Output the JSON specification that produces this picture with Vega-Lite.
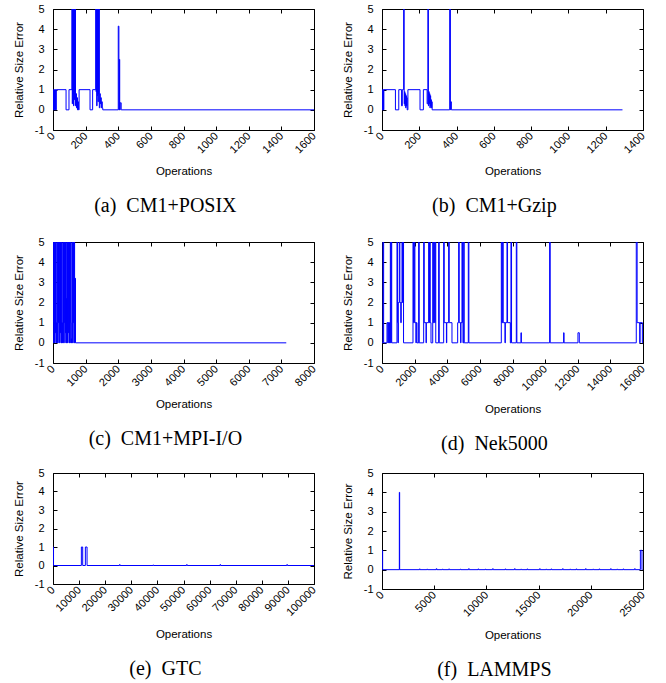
{
  "$schema": "https://vega.github.io/schema/vega-lite/v6.json",
  "padding": {"left": 12, "top": 2, "right": 5, "bottom": 2},
  "background": "white",
  "datasets": {
    "a": [
      {"op": 0, "err": 0}, {"op": 3, "err": 1}, {"op": 6, "err": 0}, {"op": 9, "err": 1}, {"op": 12, "err": 0}, {"op": 15, "err": 1}, {"op": 18, "err": 0}, {"op": 20, "err": 1},
      {"op": 80, "err": 0}, {"op": 98, "err": 1}, {"op": 116, "err": 6}, {"op": 118, "err": 0.3}, {"op": 120, "err": 6}, {"op": 122, "err": 0.8}, {"op": 124, "err": 6}, {"op": 126, "err": 0.2}, {"op": 128, "err": 6}, {"op": 130, "err": 0.5}, {"op": 132, "err": 6}, {"op": 134, "err": 0.9}, {"op": 136, "err": 6}, {"op": 138, "err": 0.2},
      {"op": 141, "err": 0.8}, {"op": 144, "err": 0.1}, {"op": 147, "err": 0.6}, {"op": 150, "err": 0}, {"op": 153, "err": 0.4}, {"op": 156, "err": 0}, {"op": 160, "err": 1},
      {"op": 227, "err": 0}, {"op": 243, "err": 1}, {"op": 262, "err": 6}, {"op": 264, "err": 0.9}, {"op": 266, "err": 6}, {"op": 268, "err": 0.2}, {"op": 270, "err": 6}, {"op": 272, "err": 0.7}, {"op": 274, "err": 6}, {"op": 276, "err": 0.4}, {"op": 278, "err": 6}, {"op": 280, "err": 0.8}, {"op": 282, "err": 6}, {"op": 284, "err": 0.1},
      {"op": 287, "err": 0.8}, {"op": 290, "err": 0.3}, {"op": 293, "err": 0.6}, {"op": 296, "err": 0.1}, {"op": 299, "err": 0.4}, {"op": 302, "err": 0.1}, {"op": 305, "err": 0},
      {"op": 400, "err": 4.15}, {"op": 404, "err": 0}, {"op": 407, "err": 2.5}, {"op": 409, "err": 0}, {"op": 412, "err": 0.35}, {"op": 418, "err": 0}, {"op": 1600, "err": 0}
    ],
    "b": [
      {"op": 0, "err": 0}, {"op": 2, "err": 1}, {"op": 4, "err": 0}, {"op": 6, "err": 1}, {"op": 8, "err": 0}, {"op": 10, "err": 1},
      {"op": 72, "err": 0}, {"op": 90, "err": 1}, {"op": 105, "err": 0.2}, {"op": 109, "err": 1}, {"op": 116, "err": 6}, {"op": 119, "err": 0.3}, {"op": 121, "err": 0.9}, {"op": 123, "err": 0.2}, {"op": 125, "err": 0.8}, {"op": 127, "err": 0.1}, {"op": 129, "err": 0.7}, {"op": 131, "err": 0.2}, {"op": 133, "err": 0.6}, {"op": 135, "err": 0},
      {"op": 139, "err": 1}, {"op": 204, "err": 0}, {"op": 222, "err": 1}, {"op": 242, "err": 0.3}, {"op": 246, "err": 6}, {"op": 249, "err": 0.2}, {"op": 251, "err": 0.9}, {"op": 253, "err": 0.3}, {"op": 255, "err": 0.8}, {"op": 257, "err": 0.1}, {"op": 259, "err": 0.7}, {"op": 261, "err": 0.2}, {"op": 263, "err": 0.5}, {"op": 265, "err": 0.1}, {"op": 267, "err": 0.4}, {"op": 269, "err": 0},
      {"op": 363, "err": 6}, {"op": 367, "err": 0}, {"op": 369, "err": 0.4}, {"op": 372, "err": 0}, {"op": 1290, "err": 0}
    ],
    "c": [
      {"op": 0, "err": 0}, {"op": 8, "err": 1}, {"op": 16, "err": 6}, {"op": 28, "err": 0}, {"op": 40, "err": 6}, {"op": 52, "err": 0}, {"op": 64, "err": 6}, {"op": 76, "err": 0.5}, {"op": 88, "err": 6}, {"op": 100, "err": 0},
      {"op": 112, "err": 1}, {"op": 122, "err": 0}, {"op": 130, "err": 1}, {"op": 135, "err": 6}, {"op": 147, "err": 0}, {"op": 159, "err": 6}, {"op": 171, "err": 1}, {"op": 183, "err": 6}, {"op": 195, "err": 0}, {"op": 207, "err": 6}, {"op": 219, "err": 0.5}, {"op": 231, "err": 6}, {"op": 243, "err": 0}, {"op": 255, "err": 6}, {"op": 267, "err": 0},
      {"op": 275, "err": 1}, {"op": 285, "err": 0}, {"op": 295, "err": 1}, {"op": 300, "err": 6}, {"op": 312, "err": 0}, {"op": 324, "err": 6}, {"op": 336, "err": 1}, {"op": 348, "err": 6}, {"op": 360, "err": 0}, {"op": 372, "err": 6}, {"op": 384, "err": 0.5}, {"op": 396, "err": 6}, {"op": 405, "err": 0},
      {"op": 412, "err": 2.2}, {"op": 420, "err": 0}, {"op": 428, "err": 1}, {"op": 433, "err": 6}, {"op": 445, "err": 0}, {"op": 457, "err": 6}, {"op": 469, "err": 0.5}, {"op": 481, "err": 6}, {"op": 493, "err": 0}, {"op": 505, "err": 6}, {"op": 517, "err": 0}, {"op": 529, "err": 6}, {"op": 541, "err": 1},
      {"op": 553, "err": 0}, {"op": 560, "err": 0.2}, {"op": 570, "err": 0}, {"op": 578, "err": 6}, {"op": 590, "err": 0}, {"op": 602, "err": 6}, {"op": 614, "err": 1}, {"op": 626, "err": 6}, {"op": 638, "err": 0}, {"op": 650, "err": 6}, {"op": 662, "err": 0},
      {"op": 672, "err": 1}, {"op": 680, "err": 3.2}, {"op": 690, "err": 0}, {"op": 7150, "err": 0}
    ],
    "d": [
      {"op": 0, "err": 0}, {"op": 61, "err": 6}, {"op": 100, "err": 0}, {"op": 306, "err": 1}, {"op": 360, "err": 0}, {"op": 380, "err": 1}, {"op": 420, "err": 0}, {"op": 440, "err": 1}, {"op": 470, "err": 0}, {"op": 511, "err": 6}, {"op": 545, "err": 0}, {"op": 560, "err": 6}, {"op": 595, "err": 0},
      {"op": 919, "err": 6}, {"op": 955, "err": 1}, {"op": 985, "err": 0}, {"op": 1000, "err": 2}, {"op": 1062, "err": 6}, {"op": 1095, "err": 2}, {"op": 1150, "err": 1}, {"op": 1180, "err": 2}, {"op": 1226, "err": 6}, {"op": 1260, "err": 2}, {"op": 1287, "err": 6}, {"op": 1320, "err": 0},
      {"op": 1900, "err": 6}, {"op": 1935, "err": 1}, {"op": 1982, "err": 6}, {"op": 2017, "err": 1}, {"op": 2080, "err": 0}, {"op": 2100, "err": 1}, {"op": 2145, "err": 0}, {"op": 2247, "err": 6}, {"op": 2282, "err": 0},
      {"op": 2554, "err": 6}, {"op": 2590, "err": 1}, {"op": 2700, "err": 0}, {"op": 2720, "err": 1}, {"op": 2860, "err": 6}, {"op": 2895, "err": 1}, {"op": 2921, "err": 6}, {"op": 2956, "err": 1}, {"op": 3003, "err": 0}, {"op": 3110, "err": 6}, {"op": 3150, "err": 1}, {"op": 3190, "err": 6}, {"op": 3230, "err": 1}, {"op": 3260, "err": 6}, {"op": 3295, "err": 0},
      {"op": 3473, "err": 6}, {"op": 3508, "err": 0}, {"op": 3780, "err": 6}, {"op": 3815, "err": 1}, {"op": 3950, "err": 0}, {"op": 3970, "err": 1}, {"op": 4086, "err": 6}, {"op": 4121, "err": 1}, {"op": 4290, "err": 0},
      {"op": 4638, "err": 1}, {"op": 4699, "err": 6}, {"op": 4734, "err": 1}, {"op": 4820, "err": 0}, {"op": 4840, "err": 1}, {"op": 4903, "err": 6}, {"op": 4938, "err": 1}, {"op": 4964, "err": 0}, {"op": 5005, "err": 6}, {"op": 5040, "err": 0}, {"op": 5291, "err": 6}, {"op": 5326, "err": 0},
      {"op": 7314, "err": 6}, {"op": 7349, "err": 1}, {"op": 7395, "err": 6}, {"op": 7430, "err": 1}, {"op": 7540, "err": 0}, {"op": 7560, "err": 1}, {"op": 7661, "err": 6}, {"op": 7696, "err": 1}, {"op": 7866, "err": 0}, {"op": 7906, "err": 6}, {"op": 7941, "err": 0}, {"op": 8233, "err": 6}, {"op": 8268, "err": 0},
      {"op": 8519, "err": 0.5}, {"op": 8545, "err": 0}, {"op": 10276, "err": 6}, {"op": 10311, "err": 0}, {"op": 11134, "err": 0.5}, {"op": 11160, "err": 0}, {"op": 12013, "err": 0.5}, {"op": 12095, "err": 0},
      {"op": 15588, "err": 6}, {"op": 15640, "err": 1}, {"op": 15800, "err": 0}, {"op": 15820, "err": 1}, {"op": 15960, "err": 0}, {"op": 16000, "err": 0}
    ],
    "e": [
      {"op": 0, "err": 1}, {"op": 200, "err": 0}, {"op": 10870, "err": 1}, {"op": 11380, "err": 0}, {"op": 12400, "err": 1}, {"op": 13050, "err": 0},
      {"op": 25500, "err": 0.05}, {"op": 25700, "err": 0}, {"op": 38300, "err": 0.03}, {"op": 38500, "err": 0}, {"op": 51200, "err": 0.05}, {"op": 51400, "err": 0}, {"op": 64000, "err": 0.05}, {"op": 64200, "err": 0}, {"op": 89600, "err": 0.05}, {"op": 89800, "err": 0}, {"op": 100000, "err": 0}
    ],
    "f": [
      {"op": 0, "err": 1}, {"op": 60, "err": 0}, {"op": 1660, "err": 4}, {"op": 1690, "err": 0},
      {"op": 3600, "err": 0.04}, {"op": 3650, "err": 0}, {"op": 4300, "err": 0.03}, {"op": 4350, "err": 0}, {"op": 5200, "err": 0.05}, {"op": 5250, "err": 0}, {"op": 5800, "err": 0.03}, {"op": 5850, "err": 0}, {"op": 6400, "err": 0.04}, {"op": 6450, "err": 0}, {"op": 7500, "err": 0.03}, {"op": 7550, "err": 0}, {"op": 8300, "err": 0.05}, {"op": 8350, "err": 0},
      {"op": 9200, "err": 0.04}, {"op": 9250, "err": 0}, {"op": 9900, "err": 0.03}, {"op": 9950, "err": 0}, {"op": 10600, "err": 0.05}, {"op": 10650, "err": 0}, {"op": 11800, "err": 0.04}, {"op": 11850, "err": 0}, {"op": 12700, "err": 0.05}, {"op": 12750, "err": 0}, {"op": 13300, "err": 0.03}, {"op": 13350, "err": 0}, {"op": 13900, "err": 0.04}, {"op": 13950, "err": 0},
      {"op": 15100, "err": 0.05}, {"op": 15150, "err": 0}, {"op": 15700, "err": 0.03}, {"op": 15750, "err": 0}, {"op": 16200, "err": 0.04}, {"op": 16250, "err": 0}, {"op": 17300, "err": 0.05}, {"op": 17350, "err": 0}, {"op": 18000, "err": 0.03}, {"op": 18050, "err": 0}, {"op": 18600, "err": 0.04}, {"op": 18650, "err": 0}, {"op": 19500, "err": 0.05}, {"op": 19550, "err": 0},
      {"op": 20200, "err": 0.03}, {"op": 20250, "err": 0}, {"op": 20800, "err": 0.04}, {"op": 20850, "err": 0}, {"op": 21900, "err": 0.05}, {"op": 21950, "err": 0}, {"op": 22500, "err": 0.03}, {"op": 22550, "err": 0}, {"op": 23100, "err": 0.04}, {"op": 23150, "err": 0}, {"op": 24200, "err": 0.05}, {"op": 24250, "err": 0}, {"op": 24750, "err": 1}, {"op": 24900, "err": 0}, {"op": 24950, "err": 0}
    ]
  },
  "vconcat": [
    {
      "hconcat": [
        {
          "width": 261, "height": 121, "data": {"name": "a"},
          "title": {"text": "(a)\u00a0\u00a0CM1+POSIX"},
          "layer": [
            {"mark": {"type": "line", "interpolate": "step-after", "clip": true, "color": "#0000ff", "strokeWidth": 1},
             "encoding": {
               "x": {"field": "op", "type": "quantitative", "scale": {"domain": [0, 1600], "nice": false, "zero": false}, "axis": {"values": [0,200,400,600,800,1000,1200,1400,1600], "title": "Operations"}},
               "y": {"field": "err", "type": "quantitative", "scale": {"domain": [-1, 5], "nice": false, "zero": false}, "axis": {"values": [-1,0,1,2,3,4,5], "title": "Relative Size Error"}}}},
            {"mark": {"type": "line", "opacity": 0, "clip": true},
             "encoding": {
               "x": {"field": "op", "type": "quantitative", "axis": {"orient": "top", "values": [0,200,400,600,800,1000,1200,1400,1600], "labels": false, "title": null}},
               "y": {"field": "err", "type": "quantitative", "axis": {"orient": "right", "values": [-1,0,1,2,3,4,5], "labels": false, "title": null}}}}
          ],
          "resolve": {"axis": {"x": "independent", "y": "independent"}}
        },
        {
          "width": 261, "height": 121, "data": {"name": "b"},
          "title": {"text": "(b)\u00a0\u00a0CM1+Gzip"},
          "layer": [
            {"mark": {"type": "line", "interpolate": "step-after", "clip": true, "color": "#0000ff", "strokeWidth": 1},
             "encoding": {
               "x": {"field": "op", "type": "quantitative", "scale": {"domain": [0, 1400], "nice": false, "zero": false}, "axis": {"values": [0,200,400,600,800,1000,1200,1400], "title": "Operations"}},
               "y": {"field": "err", "type": "quantitative", "scale": {"domain": [-1, 5], "nice": false, "zero": false}, "axis": {"values": [-1,0,1,2,3,4,5], "title": "Relative Size Error"}}}},
            {"mark": {"type": "line", "opacity": 0, "clip": true},
             "encoding": {
               "x": {"field": "op", "type": "quantitative", "axis": {"orient": "top", "values": [0,200,400,600,800,1000,1200,1400], "labels": false, "title": null}},
               "y": {"field": "err", "type": "quantitative", "axis": {"orient": "right", "values": [-1,0,1,2,3,4,5], "labels": false, "title": null}}}}
          ],
          "resolve": {"axis": {"x": "independent", "y": "independent"}}
        }
      ]
    },
    {
      "vconcat": [
        {
          "hconcat": [
            {
              "width": 261, "height": 121, "data": {"name": "c"},
              "title": {"text": "(c)\u00a0\u00a0CM1+MPI-I/O"},
              "layer": [
                {"mark": {"type": "line", "interpolate": "step-after", "clip": true, "color": "#0000ff", "strokeWidth": 1},
                 "encoding": {
                   "x": {"field": "op", "type": "quantitative", "scale": {"domain": [0, 8000], "nice": false, "zero": false}, "axis": {"values": [0,1000,2000,3000,4000,5000,6000,7000,8000], "title": "Operations"}},
                   "y": {"field": "err", "type": "quantitative", "scale": {"domain": [-1, 5], "nice": false, "zero": false}, "axis": {"values": [-1,0,1,2,3,4,5], "title": "Relative Size Error"}}}},
                {"mark": {"type": "line", "opacity": 0, "clip": true},
                 "encoding": {
                   "x": {"field": "op", "type": "quantitative", "axis": {"orient": "top", "values": [0,1000,2000,3000,4000,5000,6000,7000,8000], "labels": false, "title": null}},
                   "y": {"field": "err", "type": "quantitative", "axis": {"orient": "right", "values": [-1,0,1,2,3,4,5], "labels": false, "title": null}}}}
              ],
              "resolve": {"axis": {"x": "independent", "y": "independent"}}
            },
            {
              "width": 261, "height": 121, "data": {"name": "d"},
              "title": {"text": "(d)\u00a0\u00a0Nek5000"},
              "layer": [
                {"mark": {"type": "line", "interpolate": "step-after", "clip": true, "color": "#0000ff", "strokeWidth": 1},
                 "encoding": {
                   "x": {"field": "op", "type": "quantitative", "scale": {"domain": [0, 16000], "nice": false, "zero": false}, "axis": {"values": [0,2000,4000,6000,8000,10000,12000,14000,16000], "title": "Operations"}},
                   "y": {"field": "err", "type": "quantitative", "scale": {"domain": [-1, 5], "nice": false, "zero": false}, "axis": {"values": [-1,0,1,2,3,4,5], "title": "Relative Size Error"}}}},
                {"mark": {"type": "line", "opacity": 0, "clip": true},
                 "encoding": {
                   "x": {"field": "op", "type": "quantitative", "axis": {"orient": "top", "values": [0,2000,4000,6000,8000,10000,12000,14000,16000], "labels": false, "title": null}},
                   "y": {"field": "err", "type": "quantitative", "axis": {"orient": "right", "values": [-1,0,1,2,3,4,5], "labels": false, "title": null}}}}
              ],
              "resolve": {"axis": {"x": "independent", "y": "independent"}}
            }
          ]
        },
        {
          "hconcat": [
            {
              "width": 261, "height": 111, "data": {"name": "e"},
              "title": {"text": "(e)\u00a0\u00a0GTC"},
              "layer": [
                {"mark": {"type": "line", "interpolate": "step-after", "clip": true, "color": "#0000ff", "strokeWidth": 1},
                 "encoding": {
                   "x": {"field": "op", "type": "quantitative", "scale": {"domain": [0, 100000], "nice": false, "zero": false}, "axis": {"values": [0,10000,20000,30000,40000,50000,60000,70000,80000,90000,100000], "title": "Operations"}},
                   "y": {"field": "err", "type": "quantitative", "scale": {"domain": [-1, 5], "nice": false, "zero": false}, "axis": {"values": [-1,0,1,2,3,4,5], "title": "Relative Size Error"}}}},
                {"mark": {"type": "line", "opacity": 0, "clip": true},
                 "encoding": {
                   "x": {"field": "op", "type": "quantitative", "axis": {"orient": "top", "values": [0,10000,20000,30000,40000,50000,60000,70000,80000,90000,100000], "labels": false, "title": null}},
                   "y": {"field": "err", "type": "quantitative", "axis": {"orient": "right", "values": [-1,0,1,2,3,4,5], "labels": false, "title": null}}}}
              ],
              "resolve": {"axis": {"x": "independent", "y": "independent"}}
            },
            {
              "width": 261, "height": 116, "data": {"name": "f"},
              "title": {"text": "(f)\u00a0\u00a0LAMMPS"},
              "layer": [
                {"mark": {"type": "line", "interpolate": "step-after", "clip": true, "color": "#0000ff", "strokeWidth": 1},
                 "encoding": {
                   "x": {"field": "op", "type": "quantitative", "scale": {"domain": [0, 25000], "nice": false, "zero": false}, "axis": {"values": [0,5000,10000,15000,20000,25000], "title": "Operations"}},
                   "y": {"field": "err", "type": "quantitative", "scale": {"domain": [-1, 5], "nice": false, "zero": false}, "axis": {"values": [-1,0,1,2,3,4,5], "title": "Relative Size Error"}}}},
                {"mark": {"type": "line", "opacity": 0, "clip": true},
                 "encoding": {
                   "x": {"field": "op", "type": "quantitative", "axis": {"orient": "top", "values": [0,5000,10000,15000,20000,25000], "labels": false, "title": null}},
                   "y": {"field": "err", "type": "quantitative", "axis": {"orient": "right", "values": [-1,0,1,2,3,4,5], "labels": false, "title": null}}}}
              ],
              "resolve": {"axis": {"x": "independent", "y": "independent"}}
            }
          ]
        }
      ],
      "spacing": 11
    }
  ],
  "spacing": 18,
  "config": {
    "view": {"stroke": "black", "strokeWidth": 1},
    "concat": {"spacing": 22},
    "axis": {"domain": false, "grid": false, "ticks": true, "tickSize": -4, "tickColor": "black", "tickWidth": 1,
             "labelColor": "black", "labelFont": "Liberation Sans", "labelFontSize": 11, "labelExpr": "'' + datum.value",
             "labelOverlap": false, "labelFlush": false, "labelBound": false,
             "titleFont": "Liberation Sans", "titleFontSize": 11.5, "titleFontWeight": "normal", "titleColor": "black"},
    "axisX": {"labelAngle": -45, "labelAlign": "right", "labelBaseline": "middle", "labelPadding": 8, "titlePadding": 11},
    "axisY": {"labelPadding": 13, "titlePadding": 10},
    "title": {"orient": "bottom", "font": "Liberation Serif", "fontSize": 20, "fontWeight": "normal", "color": "black", "anchor": "middle", "frame": "bounds", "offset": 19}
  }
}
